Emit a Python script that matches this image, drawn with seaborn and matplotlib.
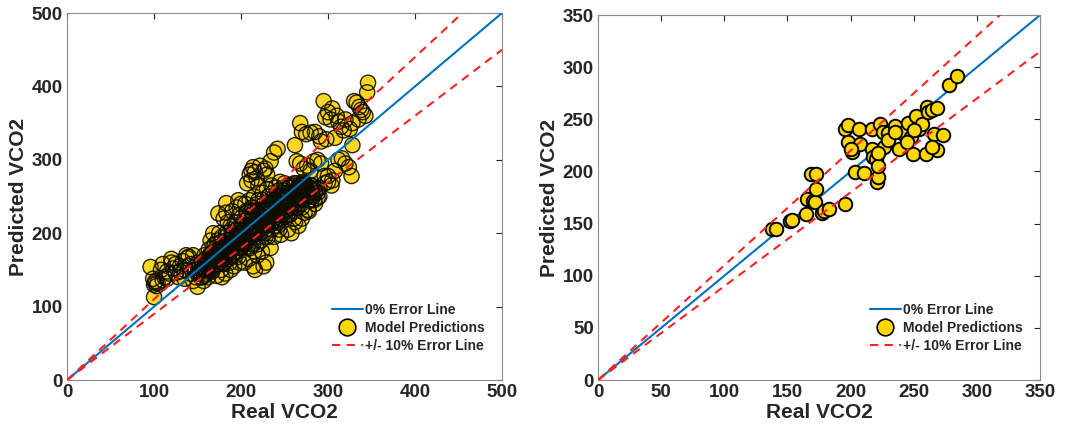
import numpy as np
import pandas as pd
import matplotlib
matplotlib.use("Agg")
import matplotlib.pyplot as plt
import seaborn as sns
from matplotlib.lines import Line2D

# ---------------- data (left panel) ----------------
real_low = [96, 100, 100, 101, 102, 103, 99, 104, 108, 110,
            112, 115, 118, 120, 122, 125, 128, 130, 133, 135,
            138, 140, 142, 145, 148, 150, 115, 125, 135, 145,
            120, 130, 140, 150, 110, 142, 148, 137]
pred_low = [154, 113, 130, 133, 135, 128, 138, 132, 150, 158,
            140, 148, 145, 165, 152, 158, 140, 155, 162, 150,
            166, 168, 145, 170, 150, 127, 138, 146, 138, 135,
            160, 148, 155, 160, 136, 158, 140, 170]

real_band1 = [152, 155, 158, 160, 162, 165, 168, 170, 172, 175,
              178, 180, 182, 185, 188, 190, 192, 195, 198, 200,
              155, 160, 165, 170, 175, 180, 185, 190, 195, 200,
              158, 163, 168, 173, 178, 183, 188, 193, 198, 157,
              162, 167, 172, 177, 182, 187, 192, 197, 165, 175,
              185, 195, 170, 180, 190, 200, 178, 188, 198, 183]
pred_band1 = [148, 160, 150, 165, 155, 172, 160, 175, 165, 178,
              170, 185, 175, 190, 180, 200, 190, 205, 195, 210,
              140, 145, 150, 155, 160, 158, 165, 170, 175, 185,
              170, 178, 182, 190, 195, 200, 210, 215, 225, 135,
              140, 148, 142, 150, 145, 160, 155, 168, 190, 200,
              215, 235, 185, 220, 230, 240, 140, 150, 160, 228]

real_band2 = [202, 205, 208, 210, 212, 215, 218, 220, 222, 225,
              228, 230, 232, 235, 238, 240, 242, 245, 248, 250,
              203, 207, 211, 215, 219, 223, 227, 231, 235, 239,
              243, 247, 205, 210, 215, 220, 225, 230, 235, 240,
              245, 250, 204, 209, 214, 219, 224, 229, 234, 244,
              206, 213, 221, 228, 236, 249, 216, 226, 238, 246]
pred_band2 = [210, 200, 215, 205, 220, 210, 225, 215, 230, 220,
              235, 225, 240, 230, 245, 240, 250, 245, 255, 250,
              185, 190, 180, 175, 185, 190, 200, 195, 205, 210,
              215, 220, 240, 245, 250, 245, 255, 260, 265, 262,
              270, 268, 160, 165, 155, 170, 175, 160, 180, 205,
              230, 235, 200, 210, 225, 235, 150, 155, 195, 198]

real_band3 = [252, 255, 258, 260, 262, 265, 268, 270, 272, 275,
              278, 280, 282, 285, 288, 290,
              253, 257, 261, 265, 269, 273, 277, 281, 285, 256,
              264, 272, 280, 288, 254, 262, 270, 278, 258, 266]
pred_band3 = [240, 250, 245, 255, 250, 260, 255, 265, 258, 262,
              255, 260, 250, 255, 248, 250,
              225, 230, 220, 235, 240, 228, 232, 245, 240, 262,
              268, 270, 265, 255, 205, 215, 220, 230, 200, 210]

real_bump = [207, 210, 212, 214, 216, 218, 222, 226, 230, 234,
             238, 242, 212, 220, 228, 183, 197, 174, 168]
pred_bump = [268, 280, 285, 290, 283, 275, 292, 285, 280, 298,
             310, 315, 272, 265, 288, 241, 245, 227, 200]

real_upper = [262, 264, 268, 270, 275, 280, 285, 290, 295, 297,
              300, 303, 305, 310, 312, 315, 320, 325, 330, 333,
              336, 338, 340, 343, 345, 346, 335, 328, 318, 308,
              298, 292]
pred_upper = [320, 298, 350, 338, 335, 337, 338, 332, 380, 358,
              365, 355, 370, 360, 352, 345, 355, 342, 380, 378,
              372, 368, 365, 360, 392, 405, 355, 350, 340, 330,
              328, 325]

real_mid = [268, 272, 276, 280, 284, 288, 292, 296, 300, 304,
            308, 312, 316, 320, 324, 328, 300, 296, 305, 290, 327]
pred_mid = [295, 288, 292, 285, 298, 300, 295, 278, 270, 265,
            285, 300, 302, 295, 290, 320, 278, 268, 272, 262, 278]

real_core = [165, 170, 175, 180, 185, 190, 195, 200, 205, 210,
             215, 220, 225, 230, 235, 240, 245, 250, 255, 260,
             265, 270, 275, 280, 168, 178, 188, 198, 208, 218,
             228, 238, 248, 258, 268, 278, 172, 182, 192, 202,
             212, 222, 232, 242, 252, 262, 272, 176, 186, 196]
pred_core = [160, 168, 170, 178, 182, 188, 192, 198, 202, 208,
             212, 215, 222, 228, 232, 238, 240, 245, 250, 252,
             255, 258, 260, 262, 170, 175, 185, 200, 195, 200,
             210, 220, 230, 240, 250, 255, 165, 172, 182, 190,
             205, 205, 215, 225, 232, 245, 262, 178, 180, 198]

real_core2 = [150, 153, 156, 159, 162, 165, 168, 171, 174, 177,
              180, 183, 186, 189, 192, 195, 198, 201, 204, 207,
              210, 213, 216, 219, 222, 225, 228, 231, 234, 237,
              240, 243, 246, 249, 252, 255, 258, 261, 264, 267,
              270, 273, 276, 279, 282, 285, 160, 175, 190, 205,
              220, 235, 250, 265, 280, 170, 185, 200, 215, 230]
pred_core2 = [145, 158, 150, 165, 152, 170, 160, 180, 165, 188,
              172, 195, 178, 205, 185, 215, 190, 222, 195, 228,
              200, 235, 205, 240, 212, 245, 218, 250, 222, 255,
              228, 258, 232, 262, 238, 265, 240, 268, 245, 265,
              248, 266, 250, 262, 252, 258, 150, 178, 195, 212,
              225, 238, 248, 258, 265, 162, 175, 190, 198, 210]

real_core3 = [155, 162, 169, 176, 183, 190, 197, 204, 211, 218,
              225, 232, 239, 246, 253, 260, 267, 274, 281, 288,
              158, 172, 186, 200, 214, 228, 242, 256, 270, 284,
              166, 180, 194, 208, 222, 236, 250, 264, 278, 212]
pred_core3 = [155, 162, 172, 170, 185, 182, 200, 205, 218, 215,
              230, 235, 245, 240, 255, 255, 262, 258, 265, 260,
              142, 158, 165, 180, 185, 195, 210, 225, 235, 245,
              148, 165, 170, 192, 200, 215, 222, 235, 245, 230]

real_core4 = [151, 157, 163, 169, 175, 181, 187, 193, 199, 205,
              211, 217, 223, 229, 235, 241, 247, 253, 259, 265,
              154, 160, 166, 172, 178, 184, 190, 196, 202, 208,
              214, 220, 226, 232, 238, 244, 250, 256, 262, 268,
              159, 165, 171, 177, 183, 189, 195, 201, 207, 213,
              219, 225, 231, 237, 243, 249, 255, 261, 267, 273,
              180, 186, 192, 198, 204, 210, 216, 222, 228, 234,
              240, 246, 252, 258, 264, 270, 276, 282, 195, 210]
pred_core4 = [152, 150, 160, 165, 168, 178, 185, 192, 198, 205,
              210, 218, 222, 230, 238, 242, 248, 252, 255, 260,
              140, 148, 155, 158, 165, 170, 178, 182, 188, 195,
              200, 205, 210, 218, 225, 232, 238, 245, 250, 252,
              162, 168, 175, 182, 190, 198, 205, 212, 218, 225,
              232, 238, 242, 248, 252, 258, 262, 265, 266, 268,
              160, 168, 172, 180, 185, 190, 195, 200, 205, 212,
              218, 225, 230, 235, 240, 245, 250, 255, 175, 182]

# ---------------- data (right panel) ----------------
real_right = [137.7, 141, 151.7, 153.5, 164.6, 165.4, 170, 172, 168.8, 173,
              173, 177, 178.6, 183, 195.7, 195.7, 197.6, 197.6, 201, 203.6,
              207, 207.6, 210.8, 216.8, 216.8, 218, 220, 220.8, 221.6, 221.6,
              223.4, 226, 226.6, 230, 234.8, 238.5, 240.6, 245.3, 248, 249.8,
              251.6, 254.3, 256.4, 259.6, 260.4, 261.7, 264.3, 266.4, 268.3, 268.3,
              264.3, 273.5, 278.3, 284, 230, 244.6, 250, 200, 222, 235]
pred_right = [144.5, 145, 152.4, 153.4, 159, 174, 171.6, 171, 198, 197.5,
              182.8, 160, 162, 163.6, 168.7, 241, 244.5, 228.5, 219, 199.7,
              241, 226, 198.8, 241, 221.5, 214, 211.6, 190, 195, 205.5,
              246, 238, 223.7, 236.5, 243.5, 222, 236.5, 246.7, 233, 217,
              253, 241, 246, 217, 262, 257, 259, 235.5, 261, 220.5,
              223.7, 235, 283, 291.5, 230, 228.5, 240, 222, 218, 238]

axis_max = [500, 350]
tick_steps = [100, 50]
error_band = 0.10

# ---------------- style ----------------
sns.set_style("white")
plt.rcParams["font.family"] = ["Liberation Sans", "DejaVu Sans"]
plt.rcParams["font.weight"] = "bold"
text_col = "#262626"
gold = "#FFD700"
blue = "#0072BD"
red = "#FF2020"

fig = plt.figure(figsize=(10.66, 4.36), dpi=100)
ax1 = fig.add_axes([0.0629, 0.1284, 0.408, 0.8417])
ax2 = fig.add_axes([0.561, 0.1284, 0.4146, 0.837])

left_df = pd.DataFrame({
    "real": real_low + real_band1 + real_band2 + real_band3 + real_bump
            + real_upper + real_mid + real_core + real_core2 + real_core3 + real_core4,
    "pred": pred_low + pred_band1 + pred_band2 + pred_band3 + pred_bump
            + pred_upper + pred_mid + pred_core + pred_core2 + pred_core3 + pred_core4,
})
right_df = pd.DataFrame({"real": real_right, "pred": pred_right})


def draw(ax, df, vmax, step, left_style):
    xs = np.array([0, vmax])
    if left_style:
        # translucent faces, then all outlines on top (dense core turns dark)
        sns.scatterplot(data=df, x="real", y="pred", ax=ax, s=120,
                        facecolor=(0.98, 0.82, 0.0, 0.85),
                        edgecolor="none", linewidth=0, zorder=3)
        sns.scatterplot(data=df, x="real", y="pred", ax=ax, s=120,
                        facecolor="none",
                        edgecolor=(0.05, 0.05, 0.0, 0.9), linewidth=1.0, zorder=3.5)
        line_z = 5
    else:
        sns.scatterplot(data=df, x="real", y="pred", ax=ax, s=95,
                        color=gold, edgecolor="black", linewidth=1.4, zorder=3)
        line_z = 2
    sns.lineplot(x=xs, y=xs, ax=ax, color=blue, lw=1.5, zorder=line_z)
    sns.lineplot(x=xs, y=xs * (1 + error_band), ax=ax, color=red, lw=1.5,
                 zorder=line_z + 1, dashes=(4, 3))
    sns.lineplot(x=xs, y=xs * (1 - error_band), ax=ax, color=red, lw=1.5,
                 zorder=line_z + 1, dashes=(4, 3))
    ax.set_xlim(0, vmax)
    ax.set_ylim(0, vmax)
    ticks = np.arange(0, vmax + 1, step)
    ax.set_xticks(ticks)
    ax.set_yticks(ticks)
    ax.tick_params(direction="in", top=True, right=True, length=4, width=0.8,
                   labelsize=13.5, colors=text_col, pad=3)
    for lab in ax.get_xticklabels() + ax.get_yticklabels():
        lab.set_fontweight("bold")
        lab.set_color(text_col)
    for sp in ax.spines.values():
        sp.set_color("#8a8a8a")
        sp.set_linewidth(0.8)
    ax.set_xlabel("Real VCO2", fontsize=15, fontweight="bold", color=text_col, labelpad=1)
    ax.set_ylabel("Predicted VCO2", fontsize=15, fontweight="bold", color=text_col, labelpad=3)

    handles = [
        Line2D([0], [0], color=blue, lw=1.5),
        Line2D([0], [0], marker="o", color="none", markerfacecolor=gold,
               markeredgecolor="black", markersize=12, markeredgewidth=1.2),
        Line2D([0], [0], color=red, lw=1.5, dashes=(4, 3)),
    ]
    labels = ["0% Error Line", "Model Predictions", "+/- 10% Error Line"]
    leg = ax.legend(handles, labels, loc="lower right", frameon=False,
                    prop={"weight": "bold", "size": 10}, handlelength=2.2,
                    handletextpad=0.2, labelspacing=0.3,
                    bbox_to_anchor=(0.99, 0.04))
    leg.set_zorder(10)
    for t in leg.get_texts():
        t.set_color(text_col)


draw(ax1, left_df, axis_max[0], tick_steps[0], True)
draw(ax2, right_df, axis_max[1], tick_steps[1], False)

fig.savefig("out.png", dpi=100)
